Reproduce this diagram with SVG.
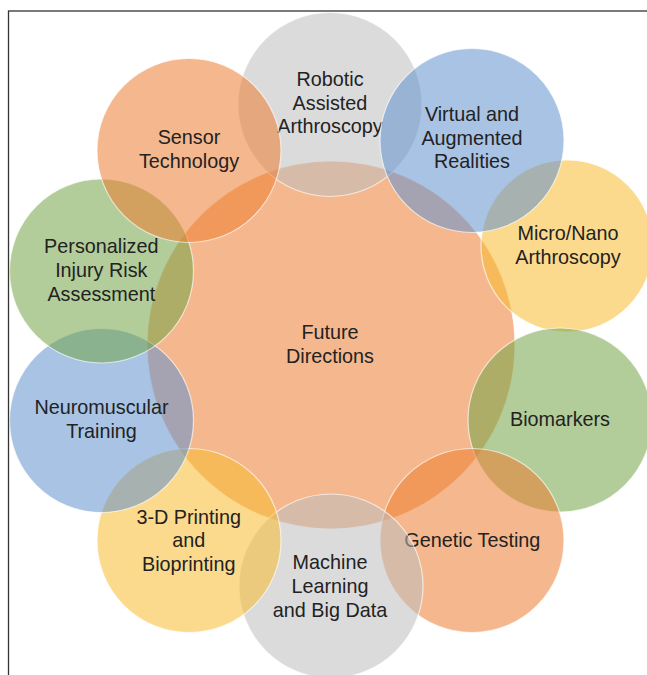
<svg xmlns="http://www.w3.org/2000/svg" width="647" height="675" viewBox="0 0 647 675">
  <style>
    .bubble { stroke: #ffffff; stroke-opacity: 0.65; stroke-width: 1.2; fill-opacity: 0.55; }
    .orange { fill: #ED7D31; }
    .gray { fill: #BDBDBF; }
    .blue { fill: #6392CE; }
    .green { fill: #73A447; }
    .yellow { fill: #F8BC30; }
    text { font-family: "Liberation Sans", Arial, sans-serif; font-size: 19.8px; fill: #222222; text-anchor: middle; }
    .frame { fill: none; stroke: #333333; stroke-width: 1.3; }
  </style>

  <rect width="647" height="675" fill="#ffffff"/>

  <!-- central hub -->
  <g id="future-directions">
    <circle class="bubble orange" cx="331" cy="345" r="184"/>
    <text x="330" y="338.5">Future</text>
    <text x="330" y="362.5">Directions</text>
  </g>

  <!-- surrounding topics, painted bottom to top -->
  <g id="micro-nano-arthroscopy">
    <circle class="bubble yellow" cx="567" cy="246" r="86"/>
    <text x="568" y="239.5">Micro/Nano</text>
    <text x="568" y="263.5">Arthroscopy</text>
  </g>

  <g id="biomarkers">
    <circle class="bubble green" cx="560" cy="420" r="92"/>
    <text x="560" y="425.7">Biomarkers</text>
  </g>

  <g id="genetic-testing">
    <circle class="bubble orange" cx="472" cy="540.5" r="92"/>
    <text x="472.3" y="546.7">Genetic Testing</text>
  </g>

  <g id="machine-learning">
    <circle class="bubble gray" cx="331" cy="586" r="92"/>
    <text x="330" y="569.3">Machine</text>
    <text x="330" y="592.7">Learning</text>
    <text x="330" y="616.7">and Big Data</text>
  </g>

  <g id="printing-bioprinting">
    <circle class="bubble yellow" cx="189" cy="540.5" r="92"/>
    <text x="188.7" y="524">3-D Printing</text>
    <text x="188.7" y="547.3">and</text>
    <text x="188.7" y="570.7">Bioprinting</text>
  </g>

  <g id="neuromuscular-training">
    <circle class="bubble blue" cx="101.5" cy="420.5" r="92"/>
    <text x="101.5" y="414">Neuromuscular</text>
    <text x="101.5" y="437.7">Training</text>
  </g>

  <g id="personalized-injury-risk">
    <circle class="bubble green" cx="101.5" cy="271" r="92"/>
    <text x="101.3" y="253">Personalized</text>
    <text x="101.3" y="276.7">Injury Risk</text>
    <text x="101.3" y="300.7">Assessment</text>
  </g>

  <g id="robotic-assisted-arthroscopy">
    <circle class="bubble gray" cx="330" cy="104.5" r="92"/>
    <text x="330" y="86">Robotic</text>
    <text x="330" y="109.5">Assisted</text>
    <text x="330" y="133">Arthroscopy</text>
  </g>

  <g id="sensor-technology">
    <circle class="bubble orange" cx="189" cy="150.5" r="92"/>
    <text x="189" y="144">Sensor</text>
    <text x="189" y="168">Technology</text>
  </g>

  <g id="virtual-augmented-realities">
    <circle class="bubble blue" cx="472" cy="140.5" r="92"/>
    <text x="472" y="121">Virtual and</text>
    <text x="472" y="144.5">Augmented</text>
    <text x="472" y="168">Realities</text>
  </g>

  <!-- no connectors: topics touch the hub directly -->
  <g id="connectors"/>

  <!-- figure border -->
  <rect class="frame" x="8.5" y="11" width="700" height="700"/>
</svg>
